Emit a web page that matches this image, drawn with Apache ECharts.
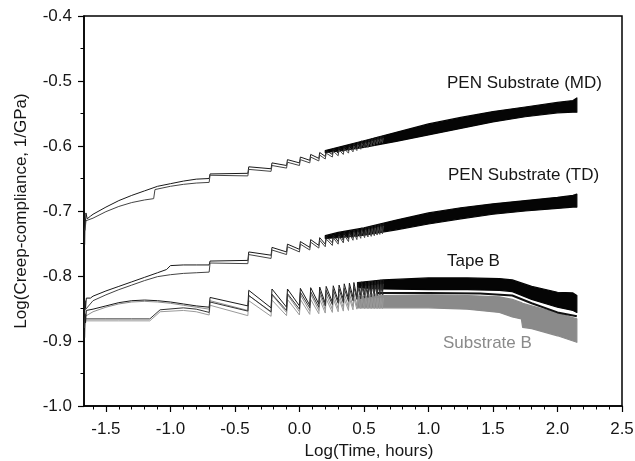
<!DOCTYPE html>
<html>
<head>
<meta charset="utf-8">
<script src="https://cdn.jsdelivr.net/npm/echarts@6/dist/echarts.min.js"></script>
<style>
  html, body { margin: 0; padding: 0; background: #fff; }
  #chart { width: 635px; height: 461px; }
</style>
</head>
<body>
<div id="chart"></div>
<script>
// Creep compliance master curves, log-log, for PEN substrate (MD/TD), tape B and substrate B.

// Axis ticks
const X_MAJOR = [-1.5, -1.0, -0.5, 0.0, 0.5, 1.0, 1.5, 2.0, 2.5];
const X_MINOR = [-1.6, -1.5, -1.4, -1.3, -1.2, -1.1, -1.0, -0.9, -0.8, -0.7, -0.6, -0.5, -0.4, -0.3, -0.2, -0.1, 0.0,
                 0.1, 0.2, 0.3, 0.4, 0.5, 0.6, 0.7, 0.8, 0.9, 1.0, 1.1, 1.2, 1.3, 1.4, 1.5, 1.6, 1.7, 1.8, 1.9, 2.0,
                 2.1, 2.2, 2.3, 2.4, 2.5];

// Log(time) at which each load cycle starts (sharp step in compliance)
const TOOTH_X = [-0.70, -0.40, -0.22, -0.10, 0.00, 0.08, 0.15, 0.20, 0.255, 0.30, 0.34, 0.38, 0.415, 0.445, 0.475,
                 0.505, 0.531, 0.556, 0.580, 0.602, 0.623, 0.643];
const RISE = 0.007;

// PEN substrate, machine direction
const MD_A_EARLY = [[-1.665, -0.752], [-1.662, -0.712], [-1.659, -0.722], [-1.655, -0.703], [-1.645, -0.712], [-1.62, -0.708],
  [-1.6, -0.705], [-1.5, -0.694], [-1.4, -0.684], [-1.3, -0.676], [-1.2, -0.669], [-1.1, -0.662], [-1.0, -0.658],
  [-0.9, -0.654], [-0.8, -0.651]];
const MD_A_TROUGH = [-0.650, -0.642, -0.635, -0.630, -0.626, -0.622, -0.619, -0.616, -0.613, -0.611, -0.609, -0.607, -0.605, -0.603, -0.601,
  -0.599, -0.598, -0.596, -0.595, -0.593, -0.592, -0.591];
const MD_A_PEAK = [-0.643, -0.632, -0.626, -0.621, -0.617, -0.613, -0.610, -0.607, -0.604, -0.602, -0.600, -0.598, -0.596, -0.594, -0.592,
  -0.591, -0.590, -0.588, -0.587, -0.586, -0.585, -0.584];
const MD_B_EARLY = [[-1.662, -0.730], [-1.655, -0.715], [-1.6, -0.711], [-1.5, -0.701], [-1.4, -0.693], [-1.3, -0.687],
  [-1.2, -0.683], [-1.13, -0.681], [-1.12, -0.667], [-1.0, -0.662], [-0.9, -0.659], [-0.8, -0.657]];
const MD_B_TROUGH = [-0.656, -0.646, -0.639, -0.634, -0.630, -0.626, -0.623, -0.620, -0.617, -0.615, -0.613, -0.611, -0.609, -0.607, -0.605,
  -0.603, -0.602, -0.600, -0.599, -0.597, -0.596, -0.595];
const MD_B_PEAK = [-0.645, -0.636, -0.630, -0.625, -0.621, -0.617, -0.614, -0.611, -0.608, -0.606, -0.604, -0.602, -0.600, -0.598, -0.596,
  -0.595, -0.594, -0.592, -0.591, -0.590, -0.589, -0.588];
const MD_BAND_X = [0.20, 0.30, 0.50, 0.75, 1.00, 1.25, 1.50, 1.75, 2.00, 2.12, 2.15];
const MD_BAND_UP = [-0.607, -0.602, -0.592, -0.579, -0.566, -0.556, -0.547, -0.540, -0.533, -0.530, -0.526];
const MD_BAND_LO = [-0.610, -0.608, -0.602, -0.593, -0.583, -0.573, -0.563, -0.555, -0.549, -0.548, -0.548];

// PEN substrate, transverse direction
const TD_A_EARLY = [[-1.665, -0.858], [-1.662, -0.838], [-1.658, -0.850], [-1.652, -0.834], [-1.62, -0.834], [-1.6, -0.831],
  [-1.5, -0.823], [-1.4, -0.816], [-1.3, -0.809], [-1.2, -0.802], [-1.1, -0.795], [-1.03, -0.790], [-1.0, -0.784],
  [-0.9, -0.783], [-0.8, -0.783]];
const TD_A_TROUGH = [-0.783, -0.776, -0.768, -0.763, -0.759, -0.756, -0.753, -0.751, -0.749, -0.747, -0.745, -0.743, -0.741, -0.740, -0.738,
  -0.737, -0.736, -0.735, -0.734, -0.733, -0.732, -0.731];
const TD_A_PEAK = [-0.777, -0.763, -0.756, -0.751, -0.747, -0.744, -0.741, -0.739, -0.737, -0.735, -0.733, -0.731, -0.729, -0.728, -0.726,
  -0.725, -0.724, -0.723, -0.722, -0.721, -0.720, -0.719];
const TD_B_EARLY = [[-1.66, -0.852], [-1.6, -0.838], [-1.5, -0.829], [-1.4, -0.821], [-1.3, -0.814], [-1.2, -0.807],
  [-1.1, -0.801], [-1.0, -0.798], [-0.9, -0.796], [-0.8, -0.795]];
const TD_B_TROUGH = [-0.794, -0.781, -0.773, -0.767, -0.763, -0.760, -0.757, -0.755, -0.753, -0.751, -0.749, -0.747, -0.745, -0.744, -0.742,
  -0.741, -0.740, -0.739, -0.738, -0.737, -0.736, -0.735];
const TD_B_PEAK = [-0.780, -0.767, -0.760, -0.755, -0.751, -0.748, -0.745, -0.743, -0.741, -0.739, -0.737, -0.735, -0.733, -0.732, -0.730,
  -0.729, -0.728, -0.727, -0.726, -0.725, -0.724, -0.723];
const TD_BAND_X = [0.20, 0.30, 0.50, 0.75, 1.00, 1.25, 1.50, 1.75, 2.00, 2.12, 2.15];
const TD_BAND_UP = [-0.738, -0.733, -0.726, -0.714, -0.703, -0.695, -0.689, -0.684, -0.679, -0.676, -0.674];
const TD_BAND_LO = [-0.742, -0.741, -0.737, -0.729, -0.720, -0.712, -0.705, -0.700, -0.696, -0.694, -0.694];

// Tape B
const TB_A_EARLY = [[-1.665, -0.895], [-1.662, -0.858], [-1.658, -0.872], [-1.652, -0.853], [-1.6, -0.851], [-1.5, -0.846],
  [-1.4, -0.841], [-1.3, -0.838], [-1.2, -0.837], [-1.1, -0.838], [-1.0, -0.840], [-0.9, -0.843], [-0.8, -0.846]];
const TB_A_TROUGH = [-0.848, -0.846, -0.849, -0.848, -0.846, -0.845, -0.843, -0.842, -0.840, -0.838, -0.836, -0.835, -0.833, -0.832, -0.830,
  -0.829, -0.828, -0.827, -0.826, -0.825, -0.824, -0.823];
const TB_A_PEAK = [-0.833, -0.822, -0.820, -0.820, -0.819, -0.818, -0.817, -0.816, -0.815, -0.814, -0.812, -0.811, -0.810, -0.810, -0.809,
  -0.809, -0.808, -0.808, -0.807, -0.807, -0.806, -0.806];
const TB_B_EARLY = [[-1.66, -0.866], [-1.5, -0.866], [-1.3, -0.866], [-1.16, -0.866], [-1.08, -0.852], [-0.9, -0.849], [-0.8, -0.851]];
const TB_B_TROUGH = [-0.856, -0.854, -0.855, -0.853, -0.851, -0.849, -0.848, -0.846, -0.844, -0.842, -0.841, -0.839, -0.838, -0.836, -0.835,
  -0.834, -0.833, -0.832, -0.831, -0.830, -0.829, -0.829];
const TB_B_PEAK = [-0.840, -0.830, -0.828, -0.827, -0.825, -0.824, -0.823, -0.822, -0.821, -0.820, -0.819, -0.818, -0.817, -0.817, -0.816,
  -0.815, -0.815, -0.814, -0.814, -0.813, -0.813, -0.812];
const TB_BAND_X = [0.45, 0.65, 1.00, 1.30, 1.55, 1.65, 1.80, 2.00, 2.12, 2.15];
const TB_BAND_UP = [-0.810, -0.806, -0.803, -0.803, -0.804, -0.806, -0.816, -0.825, -0.826, -0.830];
const TB_BAND_LO = [-0.818, -0.820, -0.821, -0.821, -0.822, -0.824, -0.836, -0.848, -0.853, -0.856];
const TB_LOWER = [[0.6, -0.826], [1.0, -0.826], [1.4, -0.827], [1.65, -0.830], [1.8, -0.842], [2.0, -0.856], [2.15, -0.862]];

// Substrate B
const SB_A_EARLY = [[-1.665, -0.880], [-1.66, -0.862], [-1.6, -0.855], [-1.5, -0.848], [-1.4, -0.843], [-1.3, -0.840],
  [-1.2, -0.839], [-1.1, -0.840], [-1.0, -0.842], [-0.9, -0.845], [-0.8, -0.848]];
const SB_A_TROUGH = [-0.851, -0.853, -0.856, -0.856, -0.855, -0.854, -0.853, -0.852, -0.851, -0.850, -0.849, -0.848, -0.847, -0.846, -0.845,
  -0.845, -0.845, -0.845, -0.845, -0.845, -0.845, -0.845];
const SB_A_PEAK = [-0.838, -0.830, -0.829, -0.829, -0.829, -0.828, -0.828, -0.828, -0.828, -0.828, -0.827, -0.827, -0.827, -0.827, -0.827,
  -0.827, -0.827, -0.827, -0.827, -0.827, -0.827, -0.827];
const SB_B_EARLY = [[-1.66, -0.869], [-1.4, -0.869], [-1.16, -0.869], [-1.08, -0.855], [-0.9, -0.853], [-0.8, -0.855]];
const SB_B_TROUGH = [-0.860, -0.861, -0.862, -0.861, -0.860, -0.859, -0.858, -0.857, -0.856, -0.855, -0.854, -0.853, -0.852, -0.851, -0.850,
  -0.850, -0.850, -0.850, -0.850, -0.850, -0.850, -0.850];
const SB_B_PEAK = [-0.845, -0.838, -0.837, -0.836, -0.836, -0.836, -0.836, -0.835, -0.835, -0.835, -0.835, -0.834, -0.834, -0.834, -0.834,
  -0.834, -0.834, -0.834, -0.834, -0.834, -0.834, -0.834];
const SB_BAND_X = [0.45, 0.65, 1.00, 1.30, 1.55, 1.65, 1.72, 1.73, 1.80, 2.00, 2.15];
const SB_BAND_UP = [-0.832, -0.830, -0.829, -0.830, -0.832, -0.836, -0.841, -0.842, -0.846, -0.857, -0.866];
const SB_BAND_LO = [-0.849, -0.849, -0.849, -0.851, -0.856, -0.863, -0.866, -0.879, -0.881, -0.892, -0.902];

const FONT = 'Liberation Sans, Arial, Helvetica, sans-serif';
const INK = '#161616';
const GREY = '#8a8a8a';

// Early creep trace followed by the stepped cyclic part
function buildTrace(early, troughs, peaks) {
  const pts = early.slice();
  for (let i = 0; i < TOOTH_X.length; i++) {
    pts.push([TOOTH_X[i], troughs[i]]);
    pts.push([TOOTH_X[i] + RISE, peaks[i]]);
  }
  return pts;
}

function traceSeries(data, color, width) {
  return {
    type: 'line', data: data, showSymbol: false, silent: true, animation: false,
    lineStyle: { color: color, width: width || 1 }, z: 3
  };
}

// Scatter band of the long-time data, filled between its upper and lower envelope
function bandSeries(xs, up, lo, color) {
  return {
    type: 'custom', silent: true, animation: false, z: 2,
    data: [[xs[0], up[0]]],
    encode: { x: 0, y: 1 },
    renderItem: function (params, api) {
      const pts = [];
      for (let i = 0; i < xs.length; i++) pts.push(api.coord([xs[i], up[i]]));
      for (let i = xs.length - 1; i >= 0; i--) pts.push(api.coord([xs[i], lo[i]]));
      return {
        type: 'polygon', shape: { points: pts },
        style: { fill: color, stroke: color, lineWidth: 1.2, lineJoin: 'round' }
      };
    }
  };
}

const chart = echarts.init(document.getElementById('chart'), null, { renderer: 'canvas' });

const option = {
  animation: false,
  backgroundColor: '#fff',
  grid: {
    left: 84, right: 13, top: 16, bottom: 55,
    show: true, borderColor: '#000', borderWidth: 1.5, backgroundColor: 'transparent',
    containLabel: false, outerBoundsMode: 'none'
  },
  xAxis: [{
    type: 'value', min: -1.67, max: 2.5, position: 'bottom',
    axisLine: { show: true, onZero: false, lineStyle: { color: '#000', width: 1.5 } },
    axisTick: { show: true, customValues: X_MAJOR, length: 6, lineStyle: { color: '#000', width: 1.2 } },
    axisLabel: {
      customValues: X_MAJOR, formatter: v => v.toFixed(1),
      fontSize: 17, fontFamily: FONT, color: INK, margin: 15
    },
    splitLine: { show: false },
    name: 'Log(Time, hours)', nameLocation: 'middle', nameGap: 35,
    nameTextStyle: { fontSize: 17, fontFamily: FONT, color: INK, padding: [0, 0, 0, 32] }
  }, {
    type: 'value', min: -1.67, max: 2.5, position: 'bottom',
    axisLine: { show: false, onZero: false },
    axisTick: { show: true, customValues: X_MINOR, length: 3.5, lineStyle: { color: '#000', width: 1 } },
    axisLabel: { show: false },
    splitLine: { show: false }
  }],
  yAxis: {
    type: 'value', min: -1.0, max: -0.4, interval: 0.1,
    axisLine: { show: true, onZero: false, lineStyle: { color: '#000', width: 1.5 } },
    axisTick: { show: true, length: 6, lineStyle: { color: '#000', width: 1.2 } },
    minorTick: { show: true, splitNumber: 2, length: 3.5, lineStyle: { color: '#000', width: 1 } },
    axisLabel: { formatter: v => v.toFixed(1), fontSize: 17, fontFamily: FONT, color: INK, margin: 12 },
    splitLine: { show: false },
    minorSplitLine: { show: false },
    name: 'Log(Creep-compliance, 1/GPa)', nameLocation: 'middle', nameGap: 54, nameRotate: 90,
    nameTextStyle: { fontSize: 17, fontFamily: FONT, color: INK }
  },
  series: [
    // Substrate B (grey)
    bandSeries(SB_BAND_X, SB_BAND_UP, SB_BAND_LO, GREY),
    traceSeries(buildTrace(SB_A_EARLY, SB_A_TROUGH, SB_A_PEAK), '#8f8f8f'),
    traceSeries(buildTrace(SB_B_EARLY, SB_B_TROUGH, SB_B_PEAK), '#9a9a9a'),
    // Tape B
    bandSeries(TB_BAND_X, TB_BAND_UP, TB_BAND_LO, '#050505'),
    traceSeries(TB_LOWER, '#111', 2),
    traceSeries(buildTrace(TB_A_EARLY, TB_A_TROUGH, TB_A_PEAK), '#1a1a1a'),
    traceSeries(buildTrace(TB_B_EARLY, TB_B_TROUGH, TB_B_PEAK), '#333'),
    // PEN substrate (TD)
    bandSeries(TD_BAND_X, TD_BAND_UP, TD_BAND_LO, '#050505'),
    traceSeries(buildTrace(TD_A_EARLY, TD_A_TROUGH, TD_A_PEAK), '#1a1a1a'),
    traceSeries(buildTrace(TD_B_EARLY, TD_B_TROUGH, TD_B_PEAK), '#444'),
    // PEN substrate (MD)
    bandSeries(MD_BAND_X, MD_BAND_UP, MD_BAND_LO, '#050505'),
    traceSeries(buildTrace(MD_A_EARLY, MD_A_TROUGH, MD_A_PEAK), '#1a1a1a'),
    traceSeries(buildTrace(MD_B_EARLY, MD_B_TROUGH, MD_B_PEAK), '#444')
  ],
  graphic: [
    { type: 'text', left: 447, top: 75, silent: true,
      style: { text: 'PEN Substrate (MD)', font: '17px ' + FONT, fill: INK } },
    { type: 'text', left: 448, top: 167, silent: true,
      style: { text: 'PEN Substrate (TD)', font: '17px ' + FONT, fill: INK } },
    { type: 'text', left: 447, top: 253, silent: true,
      style: { text: 'Tape B', font: '17px ' + FONT, fill: INK } },
    { type: 'text', left: 443, top: 335, silent: true,
      style: { text: 'Substrate B', font: '17px ' + FONT, fill: GREY } }
  ]
};

chart.setOption(option);
</script>
</body>
</html>
